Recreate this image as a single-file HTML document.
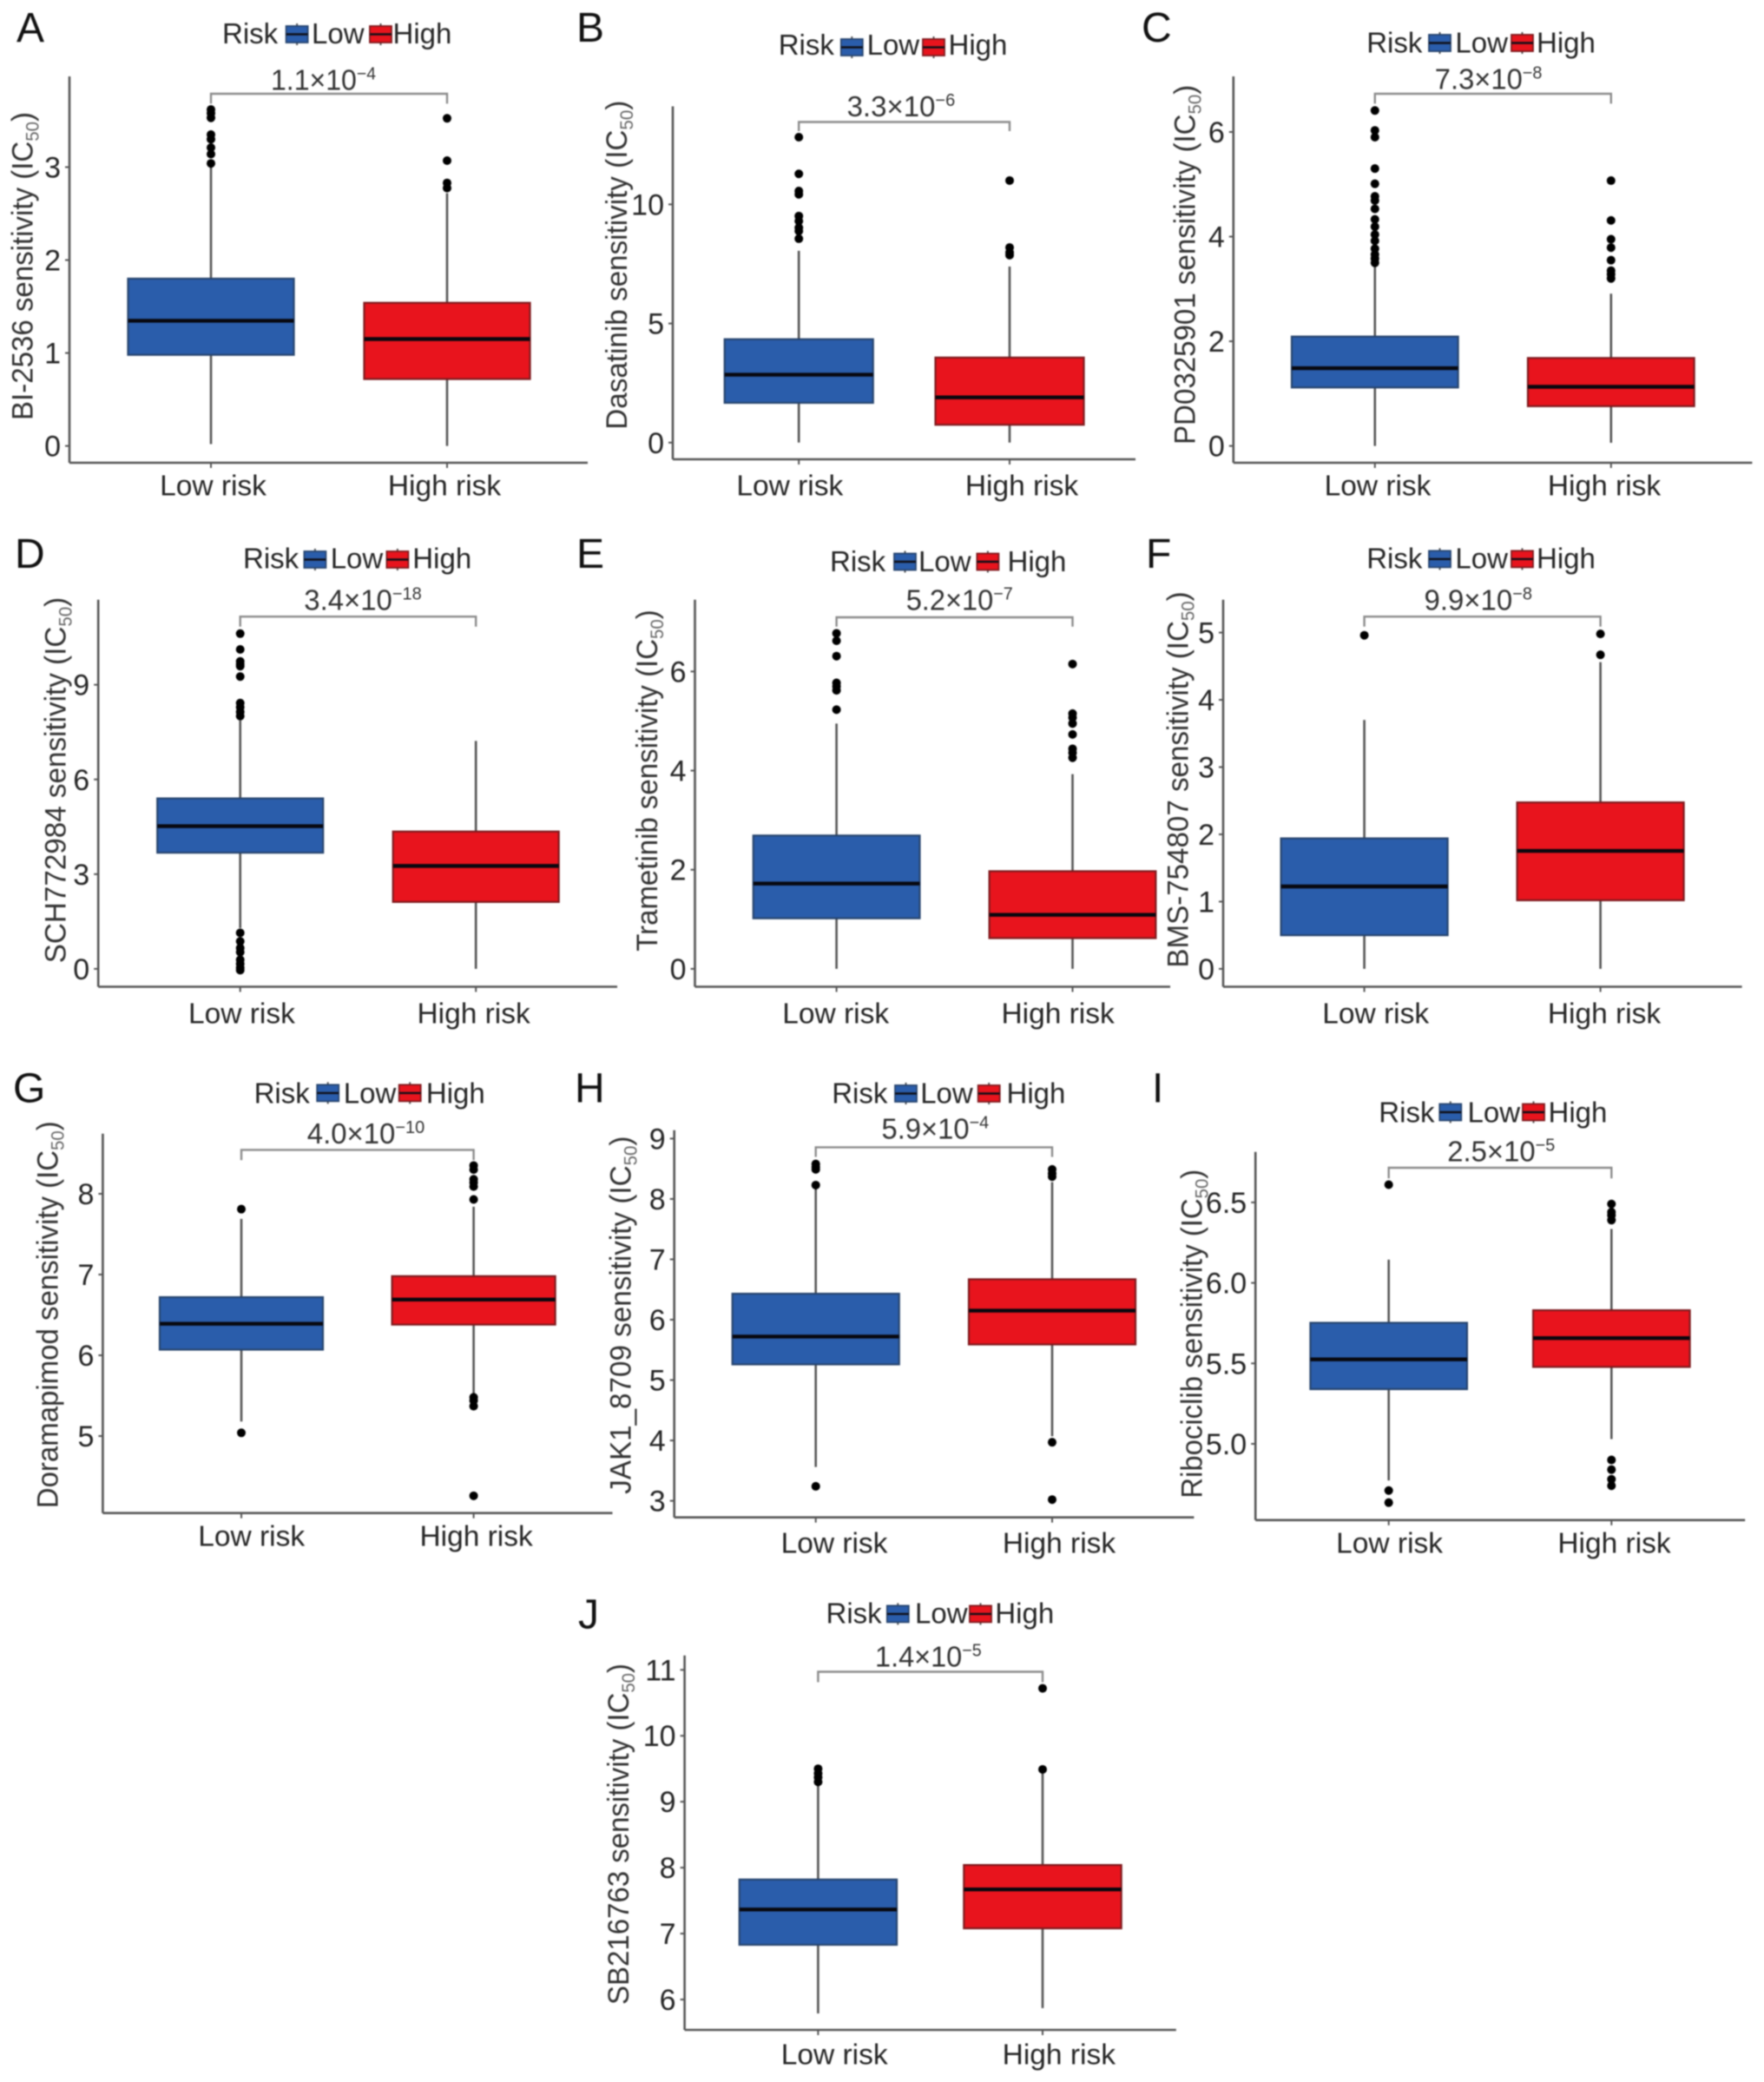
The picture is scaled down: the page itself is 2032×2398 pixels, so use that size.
<!DOCTYPE html>
<html lang="en">
<head>
<meta charset="utf-8">
<title>Drug sensitivity boxplots by risk group</title>
<style>
  html, body { margin: 0; padding: 0; background: #fff; }
  svg { display: block; filter: blur(0.7px); }
  text { font-family: "Liberation Sans", Arial, sans-serif; }
</style>
</head>
<body>
<svg id="figure" xmlns="http://www.w3.org/2000/svg" width="2032" height="2398" viewBox="0 0 2032 2398"></svg>
<script>
const categories = ['Low risk', 'High risk'];
const legendTitle = 'Risk';
const legendEntries = ['Low', 'High'];
const panelLetters = ['A', 'B', 'C', 'D', 'E', 'F', 'G', 'H', 'I', 'J'];
const drugNames = ['BI-2536', 'Dasatinib', 'PD0325901', 'SCH772984', 'Trametinib', 'BMS-754807', 'Doramapimod', 'JAK1_8709', 'Ribociclib', 'SB216763'];
const pMantissas = ['1.1', '3.3', '7.3', '3.4', '5.2', '9.9', '4.0', '5.9', '2.5', '1.4'];
const pExponents = [-4, -6, -8, -18, -7, -8, -10, -4, -5, -5];

const yTickValues = [
  [0, 1, 2, 3],
  [0, 5, 10],
  [0, 2, 4, 6],
  [0, 3, 6, 9],
  [0, 2, 4, 6],
  [0, 1, 2, 3, 4, 5],
  [5, 6, 7, 8],
  [3, 4, 5, 6, 7, 8, 9],
  [5, 5.5, 6, 6.5],
  [6, 7, 8, 9, 10, 11]
];
const yTickLabels = [
  ['0', '1', '2', '3'],
  ['0', '5', '10'],
  ['0', '2', '4', '6'],
  ['0', '3', '6', '9'],
  ['0', '2', '4', '6'],
  ['0', '1', '2', '3', '4', '5'],
  ['5', '6', '7', '8'],
  ['3', '4', '5', '6', '7', '8', '9'],
  ['5.0', '5.5', '6.0', '6.5'],
  ['6', '7', '8', '9', '10', '11']
];

/* five-number summaries: whisker low, Q1, median, Q3, whisker high */
const lowRiskStats = [
  [0.02, 0.98, 1.347, 1.80, 3.00],
  [0, 1.67, 2.85, 4.34, 8.05],
  [0, 1.117, 1.486, 2.09, 3.44],
  [1.29, 3.68, 4.52, 5.40, 7.87],
  [0, 1.02, 1.72, 2.69, 4.95],
  [0, 0.50, 1.225, 1.94, 3.70],
  [5.18, 6.07, 6.39, 6.72, 7.69],
  [3.56, 5.26, 5.72, 6.43, 8.20],
  [4.773, 5.34, 5.525, 5.752, 6.144],
  [5.79, 6.83, 7.365, 7.82, 9.25]
];
const highRiskStats = [
  [0, 0.72, 1.15, 1.54, 2.72],
  [0, 0.75, 1.90, 3.57, 7.39],
  [0.06, 0.76, 1.13, 1.68, 2.91],
  [0, 2.12, 3.26, 4.35, 7.22],
  [0, 0.62, 1.09, 1.97, 3.93],
  [0, 1.02, 1.754, 2.475, 4.56],
  [5.48, 6.38, 6.69, 6.98, 7.84],
  [4.07, 5.59, 6.15, 6.67, 8.28],
  [5.03, 5.478, 5.657, 5.83, 6.335],
  [5.87, 7.08, 7.67, 8.04, 9.43]
];
const lowRiskOutliers = [
  [3.62, 3.58, 3.53, 3.35, 3.30, 3.21, 3.14, 3.04],
  [12.82, 11.28, 10.56, 10.42, 9.51, 9.30, 9.02, 8.88, 8.56],
  [6.41, 6.03, 5.90, 5.30, 5.01, 4.77, 4.69, 4.53, 4.33, 4.19, 4.04, 3.92, 3.77, 3.66, 3.58, 3.50],
  [10.62, 10.12, 9.74, 9.66, 9.59, 9.26, 8.42, 8.29, 8.14, 8.01, 1.14, 0.87, 0.66, 0.53, 0.29, 0.16, 0.03, -0.04],
  [6.77, 6.62, 6.31, 5.77, 5.70, 5.62, 5.23],
  [4.96],
  [7.81, 5.04],
  [8.58, 8.53, 8.49, 8.23, 3.24],
  [6.61, 4.71, 4.635],
  [9.50, 9.43, 9.37, 9.30]
];
const highRiskOutliers = [
  [3.525, 3.07, 2.83, 2.775],
  [11.0, 8.19, 7.98, 7.87],
  [5.07, 4.31, 3.95, 3.79, 3.55, 3.35, 3.28, 3.20],
  [],
  [6.15, 5.15, 5.07, 4.95, 4.73, 4.44, 4.36, 4.26],
  [4.98, 4.67],
  [8.35, 8.30, 8.18, 8.14, 8.09, 7.93, 5.48, 5.44, 5.37, 4.26],
  [8.49, 8.42, 8.37, 3.97, 3.02],
  [6.49, 6.44, 6.42, 6.39, 4.90, 4.84, 4.78, 4.74],
  [10.72, 9.49]
];
/* two reference values per panel, paired with the pixel anchors in the layout */
const yScaleAnchors = [
  [0, 3], [0, 10], [0, 6], [0, 9], [0, 6], [0, 5], [5, 8], [3, 9], [5, 6.5], [6, 11]
];

/* page geometry only (no data values) */
const panelLayouts = [
  {axisX:80, top:88, bottom:533, right:677, yPx:[513.6,192.5], xLow:243, xHigh:515, boxW:191, labelX:[245.5,512], labelY:570.5,
   bracketY:108, tipY:119.4, pX:312, pY:103.3, pW:121, letterX:19, letterY:48,
   titleX:37.5, titleBottom:484, titleTop:129, legY:50, keyTop:30, riskX:256, key1X:329.6, lowX:359, key2X:426, highX:452.5},
  {axisX:775, top:122.5, bottom:529, right:1308, yPx:[509.8,235.4], xLow:920.2, xHigh:1163, boxW:171, labelX:[909.8,1177], labelY:570.5,
   bracketY:140.5, tipY:151, pX:975.6, pY:134, pW:124.6, letterX:664, letterY:48,
   titleX:722, titleBottom:494.7, titleTop:115.7, legY:63, keyTop:45, riskX:896.7, key1X:968.8, lowX:998.6, key2X:1063, highX:1092.5},
  {axisX:1420.8, top:88, bottom:533, right:2018.4, yPx:[513.6,152], xLow:1583.8, xHigh:1855.8, boxW:191.6, labelX:[1587,1848], labelY:570.5,
   bracketY:108, tipY:119.4, pX:1652.8, pY:102.6, pW:123.6, letterX:1315, letterY:48,
   titleX:1376.3, titleBottom:512, titleTop:97.7, legY:60.5, keyTop:40, riskX:1574.2, key1X:1646, lowX:1676.4, key2X:1741, highX:1770},
  {axisX:113.2, top:690.7, bottom:1136.5, right:711, yPx:[1115.9,788.7], xLow:276.7, xHigh:548.2, boxW:191, labelX:[278.4,545.6], labelY:1178.5,
   bracketY:710.2, tipY:721.7, pX:350.3, pY:702.6, pW:135.4, letterX:17, letterY:654,
   titleX:75.4, titleBottom:1109.2, titleTop:687.8, legY:654.3, keyTop:635, riskX:280, key1X:350.4, lowX:380.7, key2X:445.4, highX:475.3},
  {axisX:800.5, top:690.7, bottom:1136.5, right:1348, yPx:[1115.9,773.4], xLow:963.6, xHigh:1235.5, boxW:191.7, labelX:[962.7,1218.6], labelY:1178.5,
   bracketY:711, tipY:721.7, pX:1043.7, pY:702.6, pW:123, letterX:664, letterY:654,
   titleX:757.1, titleBottom:1095.8, titleTop:702.3, legY:658.2, keyTop:637.5, riskX:956, key1X:1030, lowX:1058, key2X:1125.4, highX:1160.5},
  {axisX:1409, top:690.7, bottom:1136.5, right:2006.6, yPx:[1115.9,728.6], xLow:1571.6, xHigh:1843.6, boxW:192, labelX:[1584.7,1848], labelY:1178.5,
   bracketY:710.2, tipY:721.7, pX:1640.5, pY:702.6, pW:124.5, letterX:1320, letterY:654,
   titleX:1368.5, titleBottom:1114.6, titleTop:681.3, legY:654.3, keyTop:634.4, riskX:1574.2, key1X:1646, lowX:1676.4, key2X:1741, highX:1770},
  {axisX:118.4, top:1305.7, bottom:1742.7, right:705.5, yPx:[1654,1375], xLow:278, xHigh:545.6, boxW:188, labelX:[289.7,548.6], labelY:1780.5,
   bracketY:1324.4, tipY:1336.3, pX:353.8, pY:1317.2, pW:135.4, letterX:15, letterY:1269.3,
   titleX:66.7, titleBottom:1737.2, titleTop:1291.3, legY:1270.5, keyTop:1249.4, riskX:292.6, key1X:365.2, lowX:395.8, key2X:459.7, highX:490.9},
  {axisX:776.7, top:1301.8, bottom:1747.7, right:1375.4, yPx:[1728.6,1311.4], xLow:939.7, xHigh:1212, boxW:192, labelX:[961,1220], labelY:1788.5,
   bracketY:1321.4, tipY:1332.5, pX:1015.5, pY:1311.4, pW:123.7, letterX:662, letterY:1269.3,
   titleX:726.7, titleBottom:1720.8, titleTop:1308.5, legY:1270.5, keyTop:1250, riskX:958.2, key1X:1031, lowX:1060.2, key2X:1126.7, highX:1159.5},
  {axisX:1446.2, top:1326.7, bottom:1750.8, right:2010.2, yPx:[1663,1384.9], xLow:1599.7, xHigh:1856.3, boxW:180.5, labelX:[1600.6,1859.5], labelY:1788.5,
   bracketY:1345, tipY:1357.3, pX:1667.3, pY:1337.4, pW:124, letterX:1327, letterY:1269.3,
   titleX:1384.5, titleBottom:1725.7, titleTop:1346.8, legY:1292.3, keyTop:1271.5, riskX:1588.3, key1X:1658.3, lowX:1690.5, key2X:1754, highX:1783.5},
  {axisX:788.6, top:1906.8, bottom:2338, right:1354.8, yPx:[2303,1923.3], xLow:942.4, xHigh:1201, boxW:181.3, labelX:[961.2,1219.8], labelY:2377.5,
   bracketY:1925.5, tipY:1937.5, pX:1008, pY:1919.5, pW:122.7, letterX:666, letterY:1875.6,
   titleX:723.8, titleBottom:2309, titleTop:1916, legY:1869.3, keyTop:1849.4, riskX:951.5, key1X:1021.8, lowX:1054, key2X:1117, highX:1146.3}
];

const SVG_NS = 'http://www.w3.org/2000/svg';
const figure = document.getElementById('figure');
const BLUE = '#2a5dab';
const RED = '#e8141d';
const BLUE_EDGE = '#27456f';
const RED_EDGE = '#7f1a1e';
const INK = '#262626';
const AXIS = '#555555';

function make(tag, parent, attrs, content) {
  const node = document.createElementNS(SVG_NS, tag);
  Object.keys(attrs).forEach(function (k) { node.setAttribute(k, attrs[k]); });
  if (content !== undefined) node.textContent = content;
  parent.appendChild(node);
  return node;
}
function yScale(i) {
  const a = yScaleAnchors[i];
  const p = panelLayouts[i].yPx;
  return function (v) { return p[0] + (v - a[0]) / (a[1] - a[0]) * (p[1] - p[0]); };
}
function xScale(i) {
  const l = panelLayouts[i];
  return function (c) { return l.xLow + c * (l.xHigh - l.xLow); };
}

function drawBox(group, stats, outliers, cx, w, y, fill, edge) {
  let el = make('line', group, {x1: cx, x2: cx, y1: y(stats[0]), y2: y(stats[4]), stroke: AXIS, 'stroke-width': 2.6});
  
  
  el = make('rect', group, {x: cx - w / 2, width: w, y: y(stats[3]), height: y(stats[1]) - y(stats[3]), fill: fill, stroke: edge, 'stroke-width': 2.2});
  
  
  el = make('line', group, {x1: cx - w / 2, x2: cx + w / 2, y1: y(stats[2]), y2: y(stats[2]), stroke: '#08080f', 'stroke-width': 4.4});
  
  
  outliers.forEach(function (v) {
    const dot = make('circle', group, {cx: cx, cy: y(v), r: 5, fill: '#000'});
    
    
  });
}

function drawLegendKey(group, x, top, fill, edge) {
  const w = 25, h = 19, cx = x + w / 2;
  let el = make('line', group, {x1: cx, x2: cx, y1: top - 3, y2: top + h + 3, stroke: AXIS, 'stroke-width': 2});
  
  
  el = make('rect', group, {x: x, y: top, width: w, height: h, fill: fill, stroke: edge, 'stroke-width': 1.8});
  
  
  el = make('line', group, {x1: x, x2: x + w, y1: top + h / 2, y2: top + h / 2, stroke: '#101018', 'stroke-width': 2.4});
  
  
}

panelLetters.forEach(function (letter, i) {
  const L = panelLayouts[i];
  const y = yScale(i);
  const x = xScale(i);

  const panel = make('g', figure, {});
  
  

  const letterEl = make('text', panel, {x: L.letterX, y: L.letterY, 'font-size': 48, fill: '#111'}, letter);
  
  

  /* legend */
  const legend = make('g', panel, {});
  
  
  const riskEl = make('text', legend, {x: L.riskX, y: L.legY, 'font-size': 33, fill: INK}, legendTitle);
  
  
  drawLegendKey(legend, L.key1X, L.keyTop, BLUE, BLUE_EDGE);
  const lowEl = make('text', legend, {x: L.lowX, y: L.legY, 'font-size': 33, fill: INK}, legendEntries[0]);
  
  
  drawLegendKey(legend, L.key2X, L.keyTop, RED, RED_EDGE);
  const highEl = make('text', legend, {x: L.highX, y: L.legY, 'font-size': 33, fill: INK}, legendEntries[1]);
  
  

  /* y-axis title */
  const title = make('text', panel, {
    x: L.titleX, y: L.titleBottom, 'font-size': 34, fill: '#333',
    transform: 'rotate(-90 ' + L.titleX + ' ' + L.titleBottom + ')',
    textLength: L.titleBottom - L.titleTop, lengthAdjust: 'spacingAndGlyphs'
  });
  
  
  make('tspan', title, {}, drugNames[i] + ' sensitivity (IC');
  make('tspan', title, {'font-size': 21, dy: 7, fill: '#666'}, '50');
  make('tspan', title, {dy: -7}, ')');

  /* axes */
  const yAxis = make('line', panel, {x1: L.axisX, x2: L.axisX, y1: L.top, y2: L.bottom, stroke: AXIS, 'stroke-width': 2.6});
  
  
  const xAxis = make('line', panel, {x1: L.axisX, x2: L.right, y1: L.bottom, y2: L.bottom, stroke: AXIS, 'stroke-width': 2.6});
  
  

  yTickValues[i].forEach(function (v, t) {
    const tick = make('line', panel, {x1: L.axisX - 5, x2: L.axisX, y1: y(v), y2: y(v), stroke: AXIS, 'stroke-width': 2});
    
    
    const label = make('text', panel, {x: L.axisX - 10, y: y(v) + 12, 'font-size': 34, fill: INK, 'text-anchor': 'end'}, yTickLabels[i][t]);
    
    
  });
  categories.forEach(function (name, c) {
    const tick = make('line', panel, {x1: x(c), x2: x(c), y1: L.bottom, y2: L.bottom + 6, stroke: AXIS, 'stroke-width': 2});
    
    
    const label = make('text', panel, {x: L.labelX[c], y: L.labelY, 'font-size': 33.5, fill: INK, 'text-anchor': 'middle'}, name);
    
    
  });

  /* boxes */
  drawBox(panel, lowRiskStats[i], lowRiskOutliers[i], x(0), L.boxW, y, BLUE, BLUE_EDGE);
  drawBox(panel, highRiskStats[i], highRiskOutliers[i], x(1), L.boxW, y, RED, RED_EDGE);

  /* significance bracket */
  const bracket = make('polyline', panel, {
    points: x(0) + ',' + L.tipY + ' ' + x(0) + ',' + L.bracketY + ' ' + x(1) + ',' + L.bracketY + ' ' + x(1) + ',' + L.tipY,
    fill: 'none', stroke: '#8c8c8c', 'stroke-width': 2.4
  });
  
  

  const pText = make('text', panel, {x: L.pX, y: L.pY, 'font-size': 33, fill: '#333', textLength: L.pW, lengthAdjust: 'spacingAndGlyphs'});
  
  
  make('tspan', pText, {}, pMantissas[i] + '\u00d710');
  make('tspan', pText, {'font-size': 20, dy: -12}, '\u2212' + Math.abs(pExponents[i]));
});
</script>
</body>
</html>
